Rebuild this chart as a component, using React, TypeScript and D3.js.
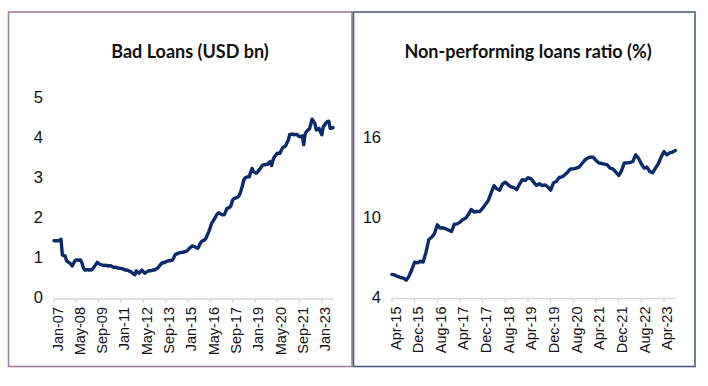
import React from "react";
import * as d3 from "d3";

// Bad loans (USD bn), monthly Jan-07 .. Sep-23
const badLoans: number[] = [
  // 2007
  1.43, 1.43, 1.43, 1.43, 1.43, 1.47, 1.07, 1.06, 1.05, 0.93, 0.9, 0.88,
  // 2008
  0.85, 0.8, 0.86, 0.93, 0.95, 0.95, 0.94, 0.95, 0.88, 0.76, 0.7, 0.7,
  // 2009
  0.71, 0.7, 0.71, 0.7, 0.74, 0.79, 0.84, 0.89, 0.86, 0.84, 0.83, 0.82,
  // 2010
  0.81, 0.82, 0.81, 0.8, 0.81, 0.8, 0.78, 0.76, 0.77, 0.76, 0.75, 0.74,
  // 2011
  0.74, 0.73, 0.72, 0.7, 0.7, 0.69, 0.67, 0.66, 0.63, 0.6, 0.58, 0.68,
  // 2012
  0.64, 0.62, 0.66, 0.7, 0.66, 0.62, 0.64, 0.66, 0.68, 0.68, 0.69, 0.7,
  // 2013
  0.7, 0.72, 0.74, 0.78, 0.82, 0.86, 0.89, 0.88, 0.9, 0.92, 0.93, 0.93,
  // 2014
  0.94, 0.95, 1.02, 1.09, 1.1, 1.12, 1.13, 1.14, 1.14, 1.15, 1.16, 1.17,
  // 2015
  1.2, 1.24, 1.27, 1.3, 1.29, 1.28, 1.26, 1.24, 1.3, 1.38, 1.42, 1.44,
  // 2016
  1.45, 1.5, 1.58, 1.66, 1.76, 1.87, 1.92, 1.98, 2.04, 2.1, 2.13, 2.11,
  // 2017
  2.09, 2.08, 2.08, 2.15, 2.24, 2.25, 2.27, 2.32, 2.45, 2.48, 2.5, 2.51,
  // 2018
  2.53, 2.58, 2.68, 2.8, 2.95, 3.0, 3.02, 3.03, 3.03, 3.15, 3.24, 3.16,
  // 2019
  3.14, 3.12, 3.15, 3.2, 3.24, 3.3, 3.33, 3.33, 3.34, 3.34, 3.38, 3.41,
  // 2020
  3.31, 3.45, 3.53, 3.57, 3.62, 3.62, 3.62, 3.7, 3.76, 3.78, 3.8, 3.88,
  // 2021
  3.95, 4.09, 4.09, 4.1, 4.08, 4.09, 4.09, 4.06, 4.03, 4.04, 4.05, 3.83,
  // 2022
  4.1, 4.16, 4.2, 4.22, 4.33, 4.47, 4.42, 4.37, 4.2, 4.22, 4.24, 4.15,
  // 2023
  4.08, 4.28, 4.32, 4.38, 4.41, 4.42, 4.24, 4.25, 4.26,
];

// Non-performing loans ratio (%), monthly Apr-15 .. Aug-23
const npl: number[] = [
  // 2015
  5.73, 5.68, 5.58, 5.5, 5.45, 5.3, 5.6, 6.1, 6.65,
  // 2016
  6.6, 6.72, 6.66, 7.4, 8.35, 8.52, 8.8, 9.45, 9.2, 9.23, 9.15, 9.05,
  // 2017
  8.95, 9.5, 9.52, 9.65, 9.85, 9.95, 10.25, 10.6, 10.4, 10.45, 10.45, 10.7,
  // 2018
  11.0, 11.28, 11.85, 12.4, 12.15, 12.05, 12.5, 12.65, 12.45, 12.3, 12.25, 12.08,
  // 2019
  12.5, 12.83, 12.78, 12.98, 12.92, 12.65, 12.4, 12.53, 12.4, 12.45, 12.3, 12.05,
  // 2020
  12.6, 12.7, 13.0, 13.05, 13.2, 13.4, 13.65, 13.65, 13.7, 13.78, 14.03, 14.28,
  // 2021
  14.45, 14.53, 14.53, 14.28, 14.1, 14.05, 14.0, 13.95, 13.7, 13.65, 13.4, 13.15,
  // 2022
  13.5, 14.1, 14.1, 14.12, 14.2, 14.7, 14.45, 14.03, 13.7, 13.78, 13.45, 13.35,
  // 2023
  13.7, 14.03, 14.53, 14.95, 14.7, 14.85, 14.9, 15.03,
];

const badLoansTickLabels = [
  "Jan-07", "May-08", "Sep-09", "Jan-11", "May-12", "Sep-13", "Jan-15",
  "May-16", "Sep-17", "Jan-19", "May-20", "Sep-21", "Jan-23",
];
const nplTickLabels = [
  "Apr-15", "Dec-15", "Aug-16", "Apr-17", "Dec-17", "Aug-18", "Apr-19",
  "Dec-19", "Aug-20", "Apr-21", "Dec-21", "Aug-22", "Apr-23",
];
const badLoansYTicks = [0, 1, 2, 3, 4, 5];
const nplYTicks = [4, 10, 16];

const LINE = "#0c2a6a";
const AXIS = "#d6d6d6";
const FONT = "'Liberation Sans', Arial, sans-serif";
const TITLE_FONT = "Lato, 'Open Sans', sans-serif";

type PanelProps = {
  values: number[];
  tickLabels: string[];
  tickEvery: number;
  yTicks: number[];
  yDomain: [number, number];
  yRange: [number, number];
  xRange: [number, number];
  title: string;
  titleX: number;
  labelRight: number;
  box: { x: number; y: number; w: number; h: number; color: string };
};

function Panel(p: PanelProps) {
  const n = p.values.length;
  const x = d3.scaleLinear().domain([0, n - 1]).range(p.xRange);
  const y = d3.scaleLinear().domain(p.yDomain).range(p.yRange);
  const line = d3
    .line<number>()
    .x((_, i) => x(i))
    .y((d) => y(d))
    .curve(d3.curveLinear);
  const axisY = y(p.yDomain[0]);
  return (
    <g>
      <rect
        x={p.box.x}
        y={p.box.y}
        width={p.box.w}
        height={p.box.h}
        fill="#fff"
        stroke={p.box.color}
        strokeWidth={1.6}
      />
      <text
        x={p.titleX}
        y={51}
        textAnchor="middle"
        dominantBaseline="central"
        fontFamily={TITLE_FONT}
        fontWeight={700}
        fontSize={18}
        fill="#111"
      >
        {p.title}
      </text>
      {p.yTicks.map((t) => (
        <text
          key={t}
          x={p.labelRight}
          y={y(t) - 1}
          textAnchor="end"
          dominantBaseline="central"
          fontFamily={FONT}
          fontSize={16.5}
          fill="#111"
        >
          {t}
        </text>
      ))}
      <line
        x1={p.xRange[0]}
        x2={p.xRange[1]}
        y1={axisY + 1}
        y2={axisY + 1}
        stroke={AXIS}
        strokeWidth={1.3}
      />
      {p.tickLabels.map((lab, k) => {
        const xi = x(k * p.tickEvery);
        return (
          <g key={lab}>
            <line
              x1={xi}
              x2={xi}
              y1={axisY + 1}
              y2={axisY + 5}
              stroke={AXIS}
              strokeWidth={1.3}
            />
            <text
              transform={`translate(${xi + 3.5},${axisY + 9}) rotate(-90)`}
              textAnchor="end"
              dominantBaseline="central"
              fontFamily={FONT}
              fontSize={14.5}
              fill="#111"
            >
              {lab}
            </text>
          </g>
        );
      })}
      <path
        d={line(p.values) || ""}
        fill="none"
        stroke={LINE}
        strokeWidth={3.4}
        strokeLinejoin="round"
        strokeLinecap="round"
      />
    </g>
  );
}

export default function App() {
  return (
    <svg
      width={708}
      height={386}
      style={{ position: "absolute", left: 0, top: 0, background: "#fff" }}
    >
      <rect x={0} y={0} width={708} height={386} fill="#fff" />
      <Panel
        values={badLoans}
        tickLabels={badLoansTickLabels}
        tickEvery={16}
        yTicks={badLoansYTicks}
        yDomain={[0, 5]}
        yRange={[298, 98]}
        xRange={[54, 333]}
        title="Bad Loans (USD bn)"
        titleX={190}
        labelRight={43}
        box={{ x: 8.5, y: 12, w: 343.5, h: 354.5, color: "#9e7f9e" }}
      />
      <Panel
        values={npl}
        tickLabels={nplTickLabels}
        tickEvery={8}
        yTicks={nplYTicks}
        yDomain={[4, 16]}
        yRange={[297.5, 137.5]}
        xRange={[392, 675.3]}
        title="Non-performing loans ratio (%)"
        titleX={528}
        labelRight={381}
        box={{ x: 353.5, y: 12, w: 341.5, h: 354.5, color: "#4e5d7c" }}
      />
    </svg>
  );
}
